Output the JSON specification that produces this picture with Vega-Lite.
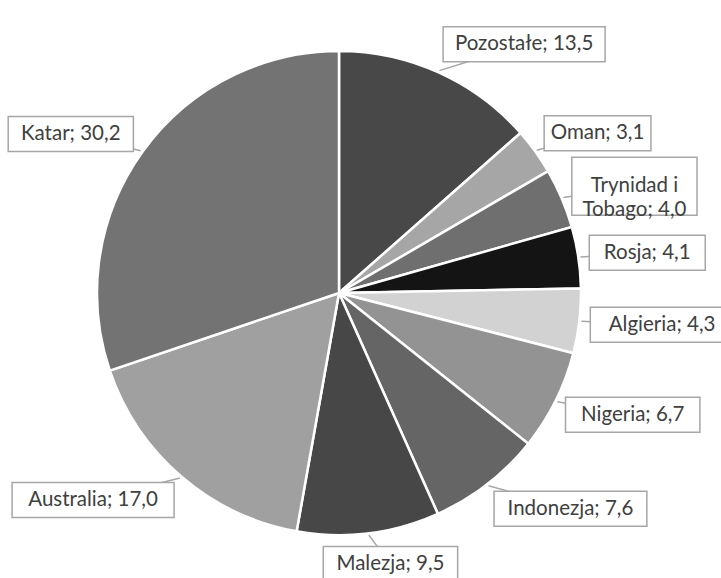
{
  "$schema": "https://vega.github.io/schema/vega-lite/v6.json",
  "width": 484,
  "height": 484,
  "autosize": {"type": "none"},
  "padding": {"left": 97, "top": 51, "right": 140, "bottom": 43},
  "background": "white",
  "config": {"view": {"stroke": null}},
  "data": {
    "values": [
      {"kraj": "Pozostałe", "udzial": 13.5},
      {"kraj": "Oman", "udzial": 3.1},
      {"kraj": "Trynidad i\nTobago", "udzial": 4.0},
      {"kraj": "Rosja", "udzial": 4.1},
      {"kraj": "Algieria", "udzial": 4.3},
      {"kraj": "Nigeria", "udzial": 6.7},
      {"kraj": "Indonezja", "udzial": 7.6},
      {"kraj": "Malezja", "udzial": 9.5},
      {"kraj": "Australia", "udzial": 17.0},
      {"kraj": "Katar", "udzial": 30.2}
    ]
  },
  "transform": [
    {"window": [{"op": "row_number", "as": "rank"}]},
    {"window": [{"op": "sum", "field": "udzial", "as": "cum"}], "sort": [{"field": "rank"}], "frame": [null, 0]},
    {"joinaggregate": [{"op": "sum", "field": "udzial", "as": "total"}]},
    {"calculate": "(datum.cum - datum.udzial / 2) / datum.total * 2 * PI", "as": "mid"},
    {"calculate": "datum.kraj + '; ' + replace(format(datum.udzial, '.1f'), '.', ',')", "as": "label"},
    {"calculate": "split(datum.label, '\\n')", "as": "lines"},
    {"calculate": "max(length(datum.lines[0]), length(peek(datum.lines)))", "as": "nchar"},
    {"calculate": "9.2 * datum.nchar + 24", "as": "bw"},
    {"calculate": "12 + 23 * length(datum.lines)", "as": "bh"},
    {"calculate": "253 * sin(datum.mid) + datum.bw / 2 * clamp(2.5 * sin(datum.mid), -1, 1)", "as": "lx"},
    {"calculate": "273 * cos(datum.mid)", "as": "ly"},
    {"calculate": "244 * sin(datum.mid)", "as": "ex"},
    {"calculate": "244 * cos(datum.mid)", "as": "ey"},
    {"calculate": "datum.lx - datum.bw / 2", "as": "bx1"},
    {"calculate": "datum.lx + datum.bw / 2", "as": "bx2"},
    {"calculate": "datum.ly - datum.bh / 2", "as": "by1"},
    {"calculate": "datum.ly + datum.bh / 2", "as": "by2"}
  ],
  "layer": [
    {
      "mark": {"type": "arc", "stroke": "white", "strokeWidth": 2.5},
      "encoding": {
        "theta": {"field": "udzial", "type": "quantitative", "stack": true},
        "order": {"field": "rank", "type": "quantitative"},
        "color": {
          "field": "kraj",
          "type": "nominal",
          "legend": null,
          "scale": {
            "domain": ["Pozostałe", "Oman", "Trynidad i\nTobago", "Rosja", "Algieria", "Nigeria", "Indonezja", "Malezja", "Australia", "Katar"],
            "range": ["#484848", "#a6a6a6", "#6f6f6f", "#141414", "#d2d2d2", "#939393", "#656565", "#474747", "#a0a0a0", "#737373"]
          }
        }
      }
    },
    {
      "mark": {"type": "rule", "color": "#a6a6a6", "strokeWidth": 1.5},
      "encoding": {
        "x": {"field": "ex", "type": "quantitative", "axis": null, "scale": {"domain": [-242, 242], "nice": false, "zero": false}},
        "y": {"field": "ey", "type": "quantitative", "axis": null, "scale": {"domain": [-242, 242], "nice": false, "zero": false}},
        "x2": {"field": "lx"},
        "y2": {"field": "ly"}
      }
    },
    {
      "mark": {"type": "rect", "fill": "white", "stroke": "#a6a6a6", "strokeWidth": 1.5},
      "encoding": {
        "x": {"field": "bx1", "type": "quantitative"},
        "x2": {"field": "bx2"},
        "y": {"field": "by1", "type": "quantitative"},
        "y2": {"field": "by2"}
      }
    },
    {
      "mark": {"type": "text", "font": "Lato", "fontSize": 20.5, "color": "#404040", "align": "center", "baseline": "middle", "lineBreak": "\n", "lineHeight": 24},
      "encoding": {
        "x": {"field": "lx", "type": "quantitative"},
        "y": {"field": "ly", "type": "quantitative"},
        "text": {"field": "label", "type": "nominal"}
      }
    }
  ]
}
